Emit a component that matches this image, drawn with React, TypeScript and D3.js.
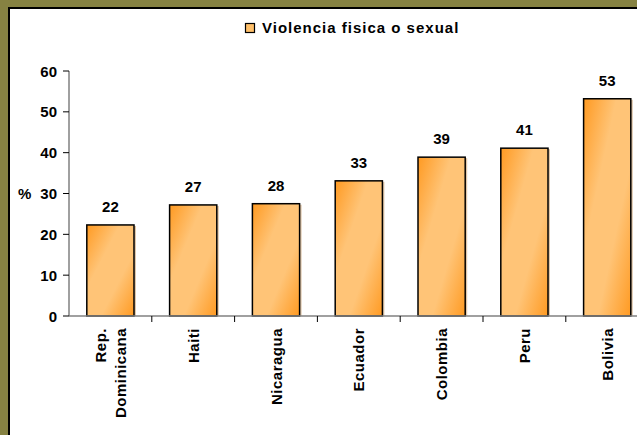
import React, { useEffect, useRef } from "react";
import * as d3 from "d3";

const categories = ["Rep. Dominicana", "Haiti", "Nicaragua", "Ecuador", "Colombia", "Peru", "Bolivia"];
const values = [22.3, 27.2, 27.5, 33.1, 38.9, 41.1, 53.2];
const valueLabels = ["22", "27", "28", "33", "39", "41", "53"];
const yTicks = [0, 10, 20, 30, 40, 50, 60];
const legendLabel = "Violencia fisica o sexual";

const FONT = "Arial, 'Liberation Sans', sans-serif";

const App = () => {
  const chartRef = useRef<SVGSVGElement>(null);

  useEffect(() => {
    const width = 637;
    const height = 435;
    const svg = d3.select(chartRef.current).attr("width", width).attr("height", height);
    svg.selectAll("*").remove();

    // frame: olive band on the left / top with a dark rule
    svg.append("rect").attr("width", width).attr("height", height).attr("fill", "#ffffff");
    svg.append("rect").attr("x", 0).attr("y", 0).attr("width", 8).attr("height", height).attr("fill", "#868242");
    svg.append("rect").attr("x", 0).attr("y", 0).attr("width", width).attr("height", 7).attr("fill", "#868242");
    svg.append("rect").attr("x", 8).attr("y", 7).attr("width", 2).attr("height", height).attr("fill", "#000");
    svg.append("rect").attr("x", 8).attr("y", 7).attr("width", width).attr("height", 2).attr("fill", "#000");

    const defs = svg.append("defs");
    defs
      .append("linearGradient")
      .attr("id", "barGrad")
      .attr("x1", "0")
      .attr("y1", "0")
      .attr("x2", "1")
      .attr("y2", "1")
      .selectAll("stop")
      .data([
        { offset: "0%", color: "#FF9A22" },
        { offset: "35%", color: "#FFC477" },
        { offset: "65%", color: "#FFC477" },
        { offset: "100%", color: "#FF9A22" },
      ])
      .enter()
      .append("stop")
      .attr("offset", (d) => d.offset)
      .attr("stop-color", (d) => d.color);

    const x = d3
      .scaleBand()
      .domain(categories)
      .range([69, 648.6])
      .paddingInner(0.43)
      .paddingOuter(0.215);

    const y = d3.scaleLinear().domain([0, 60]).range([316, 71]);

    const g = svg.append("g");

    // bars
    const bars = g.selectAll("g.bar").data(categories).enter().append("g");
    bars
      .append("rect")
      .attr("x", (d) => x(d)! + 2)
      .attr("y", (d, i) => y(values[i]) + 1)
      .attr("width", x.bandwidth())
      .attr("height", (d, i) => y(0) - y(values[i]) - 1)
      .attr("fill", "#c9a070")
      .attr("opacity", 0.6);
    bars
      .append("rect")
      .attr("x", (d) => x(d)!)
      .attr("y", (d, i) => y(values[i]))
      .attr("width", x.bandwidth())
      .attr("height", (d, i) => y(0) - y(values[i]))
      .attr("fill", "url(#barGrad)")
      .attr("stroke", "#000")
      .attr("stroke-width", 1.5);

    // value labels
    g.selectAll("text.val")
      .data(categories)
      .enter()
      .append("text")
      .attr("x", (d) => x(d)! + x.bandwidth() / 2)
      .attr("y", (d, i) => y(values[i]) - 13)
      .attr("text-anchor", "middle")
      .attr("font-family", FONT)
      .attr("font-weight", "bold")
      .attr("font-size", 15)
      .attr("fill", "#000")
      .text((d, i) => valueLabels[i]);

    // y axis
    g.append("line")
      .attr("x1", 69)
      .attr("x2", 69)
      .attr("y1", y(60))
      .attr("y2", y(0))
      .attr("stroke", "#808080")
      .attr("stroke-width", 1.5);
    const yt = g.selectAll("g.yt").data(yTicks).enter().append("g");
    yt.append("line")
      .attr("x1", 63)
      .attr("x2", 69)
      .attr("y1", (d) => y(d))
      .attr("y2", (d) => y(d))
      .attr("stroke", "#000");
    yt.append("text")
      .attr("x", 57)
      .attr("y", (d) => y(d) + 5.5)
      .attr("text-anchor", "end")
      .attr("font-family", FONT)
      .attr("font-weight", "bold")
      .attr("font-size", 15)
      .text((d) => d);

    g.append("text")
      .attr("x", 18)
      .attr("y", y(30) + 5.5)
      .attr("font-family", FONT)
      .attr("font-weight", "bold")
      .attr("font-size", 15)
      .text("%");

    // x axis
    g.append("line")
      .attr("x1", 69)
      .attr("x2", width)
      .attr("y1", y(0))
      .attr("y2", y(0))
      .attr("stroke", "#808080")
      .attr("stroke-width", 1.5);
    g.selectAll("line.xt")
      .data(categories)
      .enter()
      .append("line")
      .attr("x1", (d, i) => 69 + (i + 1) * x.step())
      .attr("x2", (d, i) => 69 + (i + 1) * x.step())
      .attr("y1", y(0))
      .attr("y2", y(0) + 6)
      .attr("stroke", "#000");

    categories.forEach((c) => {
      const cx = x(c)! + x.bandwidth() / 2;
      const lines = c === "Rep. Dominicana" ? ["Rep.", "Dominicana"] : [c];
      lines.forEach((line, j) => {
        const off = 5.5 + (j - (lines.length - 1) / 2) * 20;
        g.append("text")
          .attr("transform", `translate(${cx + off},328) rotate(-90)`)
          .attr("text-anchor", "end")
          .attr("font-family", FONT)
          .attr("font-weight", "bold")
          .attr("font-size", 15)
          .attr("letter-spacing", 0.5)
          .text(line);
      });
    });

    // legend
    const lg = svg.append("g");
    lg.append("rect")
      .attr("x", 245.5)
      .attr("y", 23.5)
      .attr("width", 9)
      .attr("height", 9)
      .attr("fill", "#FFC06A")
      .attr("stroke", "#000")
      .attr("stroke-width", 1.2);
    lg.append("text")
      .attr("x", 262)
      .attr("y", 33)
      .attr("font-family", FONT)
      .attr("font-weight", "bold")
      .attr("font-size", 15)
      .attr("letter-spacing", 1)
      .text(legendLabel);
  }, []);

  return (
    <div style={{ position: "absolute", left: 0, top: 0 }}>
      <svg ref={chartRef} style={{ display: "block" }}></svg>
    </div>
  );
};

export default App;
